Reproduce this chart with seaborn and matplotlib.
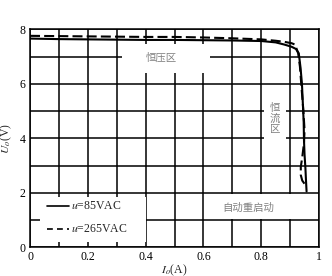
import matplotlib
matplotlib.use("Agg")
import matplotlib.pyplot as plt
import seaborn as sns
import pandas as pd
import numpy as np
from matplotlib.patches import Rectangle

# ---- data ----
solid_x = [0.0, 0.1, 0.2, 0.3, 0.4, 0.5, 0.6, 0.7, 0.8, 0.85, 0.88, 0.905, 0.92, 0.93, 0.936,
           0.941, 0.944, 0.947, 0.948, 0.950, 0.953, 0.955, 0.957]
solid_y = [7.66, 7.64, 7.63, 7.62, 7.61, 7.61, 7.60, 7.59, 7.57, 7.52, 7.44, 7.36, 7.28, 7.12, 6.6,
           6.0, 5.3, 4.6, 3.95, 3.4, 2.9, 2.45, 2.05]
dashed_x = [0.0, 0.1, 0.2, 0.3, 0.4, 0.5, 0.6, 0.7, 0.8, 0.85, 0.88, 0.905, 0.917, 0.928, 0.934,
            0.940, 0.946, 0.950, 0.948, 0.942, 0.937, 0.937, 0.942, 0.952]
dashed_y = [7.76, 7.75, 7.74, 7.73, 7.72, 7.72, 7.70, 7.67, 7.63, 7.58, 7.54, 7.49, 7.44, 7.12, 6.63,
            5.8, 5.0, 4.3, 3.82, 3.3, 2.95, 2.65, 2.45, 2.3]
series_labels = ["$u$=85VAC", "$u$=265VAC"]
x_ticks = [0, 0.2, 0.4, 0.6, 0.8, 1]
x_ticklabels = ["0", "0.2", "0.4", "0.6", "0.8", "1"]
y_ticks = [0, 2, 4, 6, 8]
region_labels = ["恒压区", "恒\n流\n区", "自动重启动"]

df = pd.concat([
    pd.DataFrame({"I": solid_x, "U": solid_y, "s": series_labels[0]}),
    pd.DataFrame({"I": dashed_x, "U": dashed_y, "s": series_labels[1]}),
])

sns.set_style("white")
plt.rcParams["font.family"] = ["Liberation Serif", "Noto Sans CJK SC"]
plt.rcParams["mathtext.fontset"] = "stix"

fig = plt.figure(figsize=(3.32, 2.76), dpi=100)
ax = fig.add_axes([30 / 332, 1 - 247.3 / 276, 289 / 332, 218 / 276])

ax.set_xlim(0, 1)
ax.set_ylim(0, 8)
xt = np.round(np.arange(0, 1.01, 0.1), 2).tolist()
ax.set_xticks(xt)
ax.set_xticklabels([x_ticklabels[x_ticks.index(v)] if v in x_ticks else "" for v in xt])
ax.set_yticks(range(0, 9))
ax.set_yticklabels([str(v) if v in y_ticks else "" for v in range(0, 9)])
ax.tick_params(length=0, labelsize=8.5, pad=3, colors="black")
ax.grid(True, color="black", lw=1.1, zorder=0.5)
ax.set_axisbelow(True)
for sp in ax.spines.values():
    sp.set_color("black")
    sp.set_linewidth(1.1)

# white label backgrounds
for (x0, y0, w, h) in [(0.318, 6.4, 0.305, 1.06), (0.81, 3.9, 0.075, 1.6),
                       (0.035, 0.2, 0.365, 1.65), (0.63, 1.04, 0.365, 0.92)]:
    ax.add_patch(Rectangle((x0, y0), w, h, facecolor="white", edgecolor="none", zorder=1))

sns.lineplot(data=df, x="I", y="U", hue="s", style="s",
             estimator=None, sort=False, palette=["black", "black"],
             dashes={series_labels[0]: "", series_labels[1]: (4.8, 2.0)},
             lw=1.5, legend=False, ax=ax, zorder=3)

# legend drawn manually
ax.plot([0.059, 0.135], [1.53, 1.53], color="black", lw=1.2, zorder=3)
ax.plot([0.059, 0.135], [0.68, 0.68], color="black", lw=1.2, ls=(0, (3.5, 2.5)), zorder=3)
ax.text(0.143, 1.53, series_labels[0], fontsize=8.5, va="center", ha="left", zorder=4)
ax.text(0.143, 0.68, series_labels[1], fontsize=8.5, va="center", ha="left", zorder=4)

cjk = ["Noto Sans CJK SC"]
ax.text(0.455, 6.95, region_labels[0], fontsize=7.5, color="#808080", family=cjk,
        ha="center", va="center", zorder=4)
ax.text(0.848, 4.72, region_labels[1], fontsize=7.5, color="#808080", family=cjk,
        ha="center", va="center", linespacing=1.05, zorder=4)
ax.text(0.755, 1.45, region_labels[2], fontsize=7.5, color="#808080", family=cjk,
        ha="center", va="center", zorder=4)

ax.set_xlabel("$I_o$(A)", fontsize=8.5)
ax.xaxis.set_label_coords(0.5, -0.068)
ax.set_ylabel("$U_o$(V)", fontsize=8.5)
ax.yaxis.set_label_coords(-0.055, 0.5)

fig.savefig("out.png", dpi=100)
